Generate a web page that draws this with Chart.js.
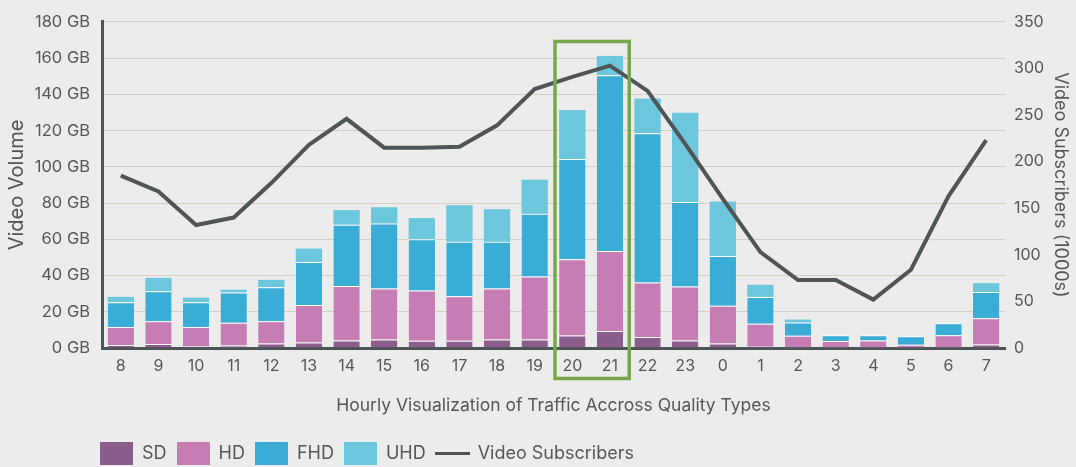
<!DOCTYPE html>
<html>
<head>
<meta charset="utf-8">
<script src="https://cdn.jsdelivr.net/npm/chart.js@4.4.1/dist/chart.umd.min.js"></script>
<style>
  html, body { margin: 0; padding: 0; background: #ececec; }
  #wrap { width: 1076px; height: 467px; position: relative; }
</style>
</head>
<body>
<div id="wrap"><canvas id="c" width="1076" height="467"></canvas></div>
<script>
// ---------- data ----------
const hours = ['8','9','10','11','12','13','14','15','16','17','18','19','20','21','22','23','0','1','2','3','4','5','6','7'];
const sdGB  = [1.6, 2.2, 1.0, 1.4, 2.5, 3.1, 4.2, 4.7, 4.0, 4.0, 4.7, 4.7, 6.9, 9.4, 6.1, 4.2, 2.5, 0.7, 0.4, 0, 0, 0, 0, 2.0];
const hdGB  = [10.0, 12.6, 10.6, 12.5, 12.3, 20.6, 30.0, 28.2, 27.8, 24.6, 28.2, 34.7, 42.1, 44.1, 30.0, 29.8, 20.8, 12.7, 6.3, 3.8, 4.2, 1.8, 7.0, 14.4];
const fhdGB = [13.7, 16.5, 13.7, 16.8, 18.8, 23.8, 33.9, 35.8, 28.2, 30.0, 25.7, 34.7, 55.3, 97.1, 82.5, 46.6, 27.5, 14.8, 7.4, 3.2, 2.8, 4.7, 6.6, 14.5];
const uhdGB = [2.9, 7.4, 2.5, 1.5, 4.0, 7.4, 8.0, 9.0, 11.7, 20.2, 18.0, 18.8, 27.1, 10.6, 19.1, 49.2, 30.0, 6.7, 1.6, 0, 0, 0, 0, 4.9];
const subscribers = [185, 168, 132, 140, 177, 218, 246, 215, 215, 216, 239, 278, 291, 303, 276, 219, 160, 103, 73, 73, 52, 84, 163, 223];
const volumeTicks = [0, 20, 40, 60, 80, 100, 120, 140, 160, 180];
const subscriberTicks = [0, 50, 100, 150, 200, 250, 300, 350];
const highlightHours = ['20', '21'];

// ---------- styles ----------
const FONT = 'Inter, "Liberation Sans", Arial, sans-serif';
const TEXT = '#52585a';
const AXIS = '#4d5456';
const COLORS = { sd: '#8b5d8c', hd: '#c57db4', fhd: '#39add5', uhd: '#6cc6dc', line: '#4f5557' };

function boxIcon(color, w, h) {
  const cv = document.createElement('canvas');
  cv.width = w; cv.height = h;
  const g = cv.getContext('2d');
  g.fillStyle = color; g.fillRect(0, 0, w, h);
  return cv;
}
const icons = [
  boxIcon(COLORS.sd, 33, 23),
  boxIcon(COLORS.hd, 33, 23),
  boxIcon(COLORS.fhd, 33, 23),
  boxIcon(COLORS.uhd, 33, 23),
  boxIcon(COLORS.line, 35, 3)
];

const sep = { top: 1, right: 0, bottom: 0, left: 0 };

const highlightPlugin = {
  id: 'highlight',
  afterDraw(chart) {
    const x = chart.scales.x, y = chart.scales.y;
    const w = x.width / hours.length;
    const i0 = hours.indexOf(highlightHours[0]);
    const i1 = hours.indexOf(highlightHours[highlightHours.length - 1]);
    const left = x.getPixelForValue(i0) - w / 2 + 1.5;
    const right = x.getPixelForValue(i1) + w / 2 + 0.5;
    const top = y.getPixelForValue(169.2);
    const bottom = chart.chartArea.bottom + 30.5;
    const ctx = chart.ctx;
    ctx.save();
    ctx.strokeStyle = '#78a64b';
    ctx.lineWidth = 3.5;
    ctx.strokeRect(left, top, right - left, bottom - top);
    ctx.restore();
  }
};

const legendPlace = {
  id: 'legendPlace',
  afterLayout(chart) {
    const lg = chart.legend;
    if (!lg) return;
    const p = lg.options.labels.padding;
    const fs = lg.options.labels.font.size;
    const w = lg.width, h = lg.height;
    lg.left = 100 - p; lg.right = lg.left + w;
    lg.top = 453.5 - p - fs / 2; lg.bottom = lg.top + h;
  }
};

new Chart(document.getElementById('c'), {
  type: 'bar',
  data: {
    labels: hours,
    datasets: [
      { label: 'SD',  data: sdGB,  backgroundColor: COLORS.sd,  borderColor: '#ffffff', borderWidth: sep, yAxisID: 'y', order: 1 },
      { label: 'HD',  data: hdGB,  backgroundColor: COLORS.hd,  borderColor: '#ffffff', borderWidth: sep, yAxisID: 'y', order: 1 },
      { label: 'FHD', data: fhdGB, backgroundColor: COLORS.fhd, borderColor: '#ffffff', borderWidth: sep, yAxisID: 'y', order: 1 },
      { label: 'UHD', data: uhdGB, backgroundColor: COLORS.uhd, borderWidth: 0, yAxisID: 'y', order: 1 },
      { type: 'line', label: 'Video Subscribers', data: subscribers, yAxisID: 'y1', order: 0,
        borderColor: COLORS.line, backgroundColor: COLORS.line, borderWidth: 4, pointRadius: 0,
        tension: 0, fill: false, borderJoinStyle: 'miter' }
    ]
  },
  options: {
    responsive: false,
    animation: false,
    layout: { padding: { top: 16, left: 0, right: 0, bottom: 0 } },
    datasets: { bar: { barPercentage: 0.7, categoryPercentage: 1.0 } },
    plugins: {
      tooltip: { enabled: false },
      legend: {
        position: 'bottom',
        align: 'start',
        labels: {
          usePointStyle: true,
          pointStyleWidth: 33,
          padding: 10,
          color: TEXT,
          font: { family: FONT, size: 18 },
          sort: (a, b) => a.datasetIndex - b.datasetIndex,
          generateLabels(chart) {
            const items = Chart.defaults.plugins.legend.labels.generateLabels(chart);
            items.forEach(it => { it.pointStyle = icons[it.datasetIndex]; it.lineWidth = 0; });
            return items;
          }
        }
      }
    },
    scales: {
      x: {
        stacked: true,
        offset: true,
        grid: { display: false, drawTicks: false },
        border: { display: true, color: AXIS, width: 3 },
        ticks: { color: TEXT, font: { family: FONT, size: 16 }, padding: 9, maxRotation: 0, autoSkip: false },
        title: { display: true, text: 'Hourly Visualization of Traffic Accross Quality Types', color: TEXT,
                 font: { family: FONT, size: 17.5 }, padding: { top: 0, bottom: 13 } },
        afterFit(s) { s.height = 467 - 348 - (s.chart.legend ? s.chart.legend.height : 35); }
      },
      y: {
        position: 'left',
        stacked: true,
        min: volumeTicks[0],
        max: volumeTicks[volumeTicks.length - 1],
        z: 1,
        afterBuildTicks(s) { s.ticks = volumeTicks.map(v => ({ value: v })); },
        ticks: { color: TEXT, font: { family: FONT, size: 16.5 }, padding: 12, callback: v => v + ' GB' },
        grid: { color: '#d1d1c5', lineWidth: 1, drawTicks: false },
        border: { display: true, color: AXIS, width: 3 },
        title: { display: true, text: 'Video Volume', color: TEXT, font: { family: FONT, size: 20 },
                 padding: { top: 5, bottom: 0 } },
        afterFit(s) { s.width = 102; }
      },
      y1: {
        position: 'right',
        min: subscriberTicks[0],
        max: subscriberTicks[subscriberTicks.length - 1],
        afterBuildTicks(s) { s.ticks = subscriberTicks.map(v => ({ value: v })); },
        ticks: { color: TEXT, font: { family: FONT, size: 16 }, padding: 9 },
        grid: { display: false, drawTicks: false },
        border: { display: false },
        title: { display: true, text: 'Video Subscribers (1000s)', color: TEXT, font: { family: FONT, size: 18 },
                 padding: { top: 5, bottom: 0 } },
        afterFit(s) { s.width = 71; }
      }
    }
  },
  plugins: [highlightPlugin, legendPlace]
});
</script>
</body>
</html>
